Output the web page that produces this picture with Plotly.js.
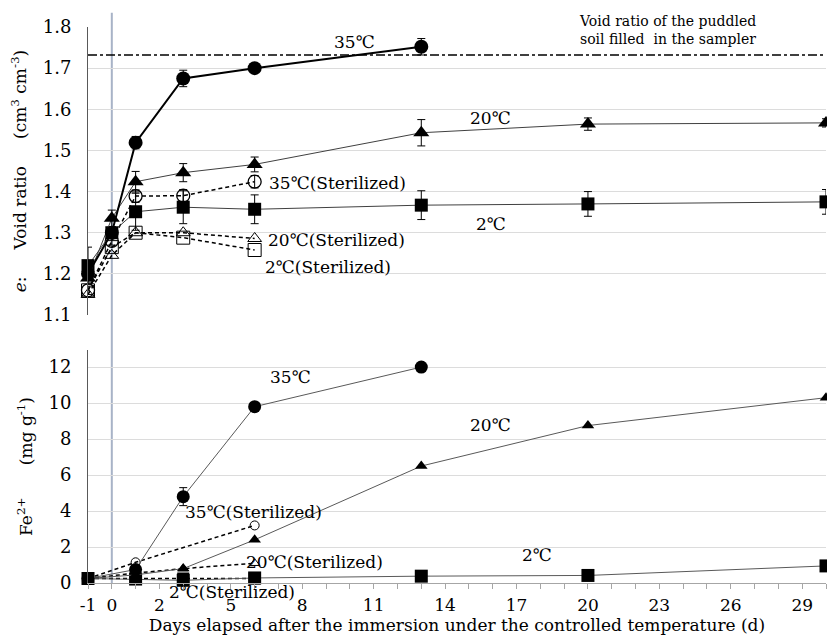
<!DOCTYPE html>
<html><head><meta charset="utf-8">
<script src="https://cdn.plot.ly/plotly-3.0.1.min.js"></script>
<style>html,body{margin:0;padding:0;background:#fff;}#chart{width:827px;height:639px;}</style>
</head><body><div id="chart"></div>
<script>
// ---- data ----
const daysTop = [-1, 0, 1, 3, 6, 13, 20, 30];
const daysTop35 = [-1, 0, 1, 3, 6, 13];
const daysTopS = [-1, 0, 1, 3, 6];
const void35 = [1.20, 1.30, 1.519, 1.675, 1.70, 1.752];
const void35Err = [0.01, 0.01, 0.015, 0.02, 0.008, 0.02];
const void20 = [1.19, 1.335, 1.424, 1.446, 1.466, 1.543, 1.564, 1.567];
const void20Err = [0.01, 0.02, 0.025, 0.022, 0.018, 0.032, 0.015, 0.01];
const void2 = [1.22, 1.30, 1.351, 1.362, 1.357, 1.367, 1.370, 1.375];
const void2Err = [0.045, 0.01, 0.045, 0.04, 0.035, 0.035, 0.03, 0.03];
const void35S = [1.16, 1.28, 1.389, 1.39, 1.424];
const void35SErr = [0.01, 0.01, 0.015, 0.015, 0.015];
const void20S = [1.15, 1.245, 1.30, 1.30, 1.286];
const void2S = [1.16, 1.265, 1.30, 1.288, 1.258];
const voidPuddled = 1.732;

const daysFe35 = [-1, 1, 3, 6, 13];
const daysFe = [-1, 1, 3, 6, 13, 20, 30];
const daysFe35S = [-1, 1, 6];
const daysFeS = [-1, 1, 3, 6];
const fe35 = [0.25, 0.75, 4.8, 9.8, 12.0];
const fe35Err = [0, 0, 0.5, 0, 0];
const fe20 = [0.25, 0.45, 0.8, 2.4, 6.5, 8.75, 10.3];
const fe2 = [0.25, 0.22, 0.15, 0.28, 0.38, 0.42, 0.95];
const fe35S = [0.25, 1.15, 3.2];
const fe20S = [0.25, 0.55, 0.8, 1.1];
const fe2S = [0.25, 0.25, 0.25, 0.25];

const xTickVals = [-1, 0, 2, 5, 8, 11, 14, 17, 20, 23, 26, 29];
const xTickText = ['-1', '0', '2', '5', '8', '11', '14', '17', '20', '23', '26', '29'];

// ---- styling helpers ----
const FONT = 'DejaVu Serif';
const SP = '\u00a0';
function err(a){ return a ? {type:'data', array:a, visible:true, color:'#000', thickness:1, width:4} : undefined; }
function tr(x, y, ya, sym, size, lineW, lineC, dash, e, open){
  const t = {x:x, y:y, yaxis:ya, type:'scatter', mode:'lines+markers', cliponaxis:false,
    line:{color:lineC, width:lineW, dash:dash},
    marker:{symbol:sym, size:size, color:'#000', line:{color:'#000', width: open ? 1.3 : 0}},
    showlegend:false, hoverinfo:'x+y'};
  if (e) t.error_y = err(e);
  return t;
}

const data = [
  tr(daysTopS, void2S, 'y2', 'square-open', 13, 1.5, '#000', '4px,3px'),
  tr(daysTopS, void20S, 'y2', 'triangle-up-open', 12, 1.5, '#000', '4px,3px'),
  tr(daysTopS, void35S, 'y2', 'circle-open', 13, 1.5, '#000', '4px,3px', void35SErr, true),
  tr(daysTop, void2, 'y2', 'square', 13, 1, '#404040', 'solid', void2Err),
  tr(daysTop, void20, 'y2', 'triangle-up', 14, 1, '#404040', 'solid', void20Err),
  tr(daysTop35, void35, 'y2', 'circle', 14, 2, '#000', 'solid', void35Err),
  tr(daysFeS, fe2S, 'y', 'square', 12, 1.5, '#000', '4px,3px'),
  tr(daysFeS, fe20S, 'y', 'triangle-up-open', 9, 1.5, '#000', '4px,3px'),
  tr(daysFe35S, fe35S, 'y', 'circle-open', 9, 1.5, '#000', '4px,3px'),
  tr(daysFe, fe2, 'y', 'square', 13, 1, '#595959', 'solid'),
  tr(daysFe, fe20, 'y', 'triangle-up', 11, 1, '#595959', 'solid'),
  tr(daysFe35, fe35, 'y', 'circle', 13, 1, '#595959', 'solid', fe35Err)
];

const ann = (x, y, yref, text, opts) => Object.assign({x:x, y:y, xref:'x', yref:yref, text:text, showarrow:false,
  font:{family:FONT, size:17, color:'#000'}, xanchor:'center', yanchor:'middle'}, opts||{});

const annotations = [
  ann(10.2, 1.764, 'y2', '35℃'),
  ann(15.9, 1.579, 'y2', '20℃'),
  ann(9.47, 1.420, 'y2', '35℃(Sterilized)'),
  ann(15.93, 1.321, 'y2', '2℃'),
  ann(9.42, 1.282, 'y2', '20℃(Sterilized)'),
  ann(9.08, 1.217, 'y2', '2℃(Sterilized)'),
  ann(19.55, 1.792, 'y2', 'Void ratio of the puddled<br>soil filled  in the sampler', {xanchor:'left', align:'left', font:{family:FONT, size:14, color:'#000'}}),
  ann(7.49, 11.44, 'y', '35℃'),
  ann(15.89, 8.78, 'y', '20℃'),
  ann(5.95, 3.96, 'y', '35℃(Sterilized)'),
  ann(8.53, 1.18, 'y', '20℃(Sterilized)'),
  ann(17.86, 1.56, 'y', '2℃'),
  ann(5.03, -0.037, 'y domain', '2℃(Sterilized)')
];

const shapes = [
  {type:'line', xref:'x', yref:'paper', x0:0, x1:0, y0:0, y1:0.995, line:{color:'#a8b3c7', width:2}, layer:'below'},
  {type:'line', xref:'paper', yref:'y2', x0:0, x1:1, y0:voidPuddled, y1:voidPuddled, line:{color:'#000', width:1.5, dash:'dashdot'}}
];

const layout = {
  width:827, height:639,
  margin:{l:88, r:1, t:10, b:56},
  paper_bgcolor:'#fff', plot_bgcolor:'#fff',
  font:{family:FONT, size:17, color:'#000'},
  showlegend:false,
  xaxis:{range:[-1, 30], tickmode:'array', tickvals:xTickVals, ticktext:xTickText, ticks:'', showgrid:false, zeroline:false,
    showline:true, linecolor:'#a6a6a6', linewidth:1, anchor:'y', tickfont:{family:FONT, size:17}, ticklabelstandoff:7,
    minor:{tickmode:'linear', tick0:-1, dtick:1, ticks:'outside', ticklen:5, tickcolor:'#a6a6a6', showgrid:false},
    title:{text:'Days elapsed after the immersion under the controlled temperature (d)', font:{family:FONT, size:17}, standoff:3}},
  yaxis:{domain:[0, 0.4066], range:[0, 12.95], tickvals:[0,2,4,6,8,10,12], ticks:'', showgrid:true, gridcolor:'#dcdcdc', gridwidth:1,
    zeroline:false, showline:true, linecolor:'#595959', linewidth:1, ticklabelstandoff:12, tickfont:{family:FONT, size:18},
    title:{text:'Fe<sup>2+</sup>' + SP.repeat(6) + '(mg g<sup>-1</sup>)', font:{family:FONT, size:17}, standoff:11}},
  yaxis2:{domain:[0.4677, 0.9703], range:[1.1, 1.8], anchor:'x', tickvals:[1.1,1.2,1.3,1.4,1.5,1.6,1.7,1.8], ticktext:['1.1','1.2','1.3','1.4','1.5','1.6','1.7','1.8'],
    ticks:'', showgrid:true, gridcolor:'#dcdcdc', gridwidth:1, zeroline:false, showline:true, linecolor:'#595959', linewidth:1,
    ticklabelstandoff:12, tickfont:{family:FONT, size:18},
    title:{text:'<i>e</i>:' + SP.repeat(5) + 'Void ratio' + SP.repeat(5) + '(cm<sup>3</sup> cm<sup>-3</sup>)', font:{family:FONT, size:17}, standoff:11}},
  annotations:annotations,
  shapes:shapes
};

Plotly.newPlot('chart', data, layout, {displayModeBar:false, staticPlot:true});
</script></body></html>
